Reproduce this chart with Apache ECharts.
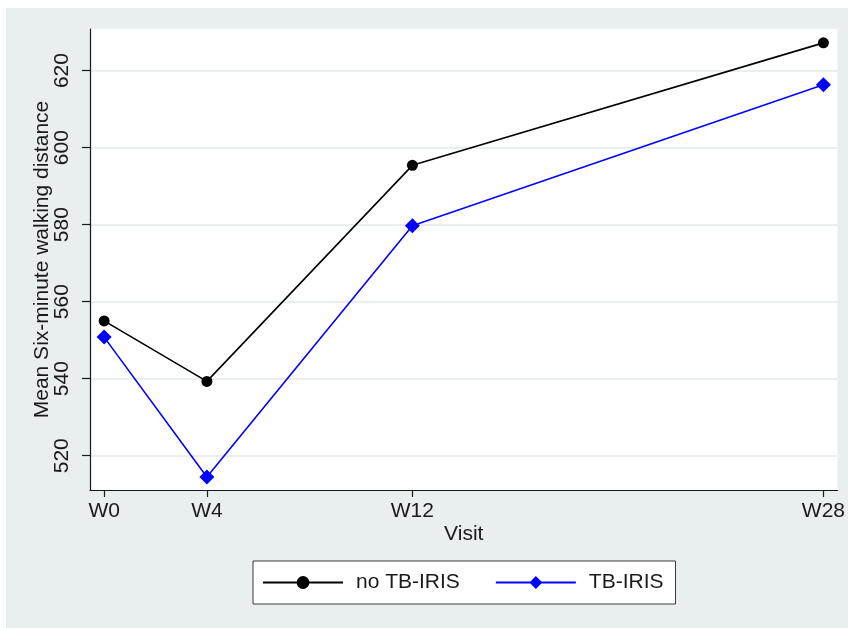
<!DOCTYPE html>
<html>
<head>
<meta charset="utf-8">
<script src="https://cdn.jsdelivr.net/npm/echarts@6/dist/echarts.min.js"></script>
<style>
  html, body { margin: 0; padding: 0; background: #ffffff; }
  #chart { width: 848px; height: 628px; }
</style>
</head>
<body>
<div id="chart"></div>
<script>
// Visit week for each measurement
const visitWeeks = [0, 4, 12, 28];
const visitLabels = ['W0', 'W4', 'W12', 'W28'];
// Mean six-minute walking distance per group
const noTbIris = [555.0, 539.3, 595.4, 627.2];
const tbIris = [550.8, 514.5, 579.7, 616.3];
// Y axis tick values
const yTicks = [520, 540, 560, 580, 600, 620];

const FONT = 'Liberation Sans, Arial, Helvetica, sans-serif';
const FS = 21;
const INK = '#1a1a1a';
const BG = '#E9EEEE';

const chart = echarts.init(document.getElementById('chart'), null, { renderer: 'canvas' });

const pair = (xs, ys) => xs.map((x, i) => [x, ys[i]]);

chart.setOption({
  backgroundColor: '#ffffff',
  animation: false,
  graphic: [{
    type: 'rect', z: -10, silent: true,
    shape: { x: 6, y: 8, width: 842, height: 620 },
    style: { fill: BG }
  }],
  grid: {
    left: 90, right: 8, top: 29, bottom: 138,
    show: true, backgroundColor: '#ffffff', borderWidth: 0,
    containLabel: false
  },
  xAxis: {
    type: 'value',
    min: -0.55, max: 28.55,
    name: 'Visit', nameLocation: 'middle', nameGap: 34, nameMoveOverlap: false,
    nameTextStyle: { fontFamily: FONT, fontSize: FS, color: INK },
    axisLine: { show: true, onZero: false, lineStyle: { color: INK, width: 1.2 } },
    axisTick: { show: true, inside: false, length: 7, customValues: visitWeeks, lineStyle: { color: INK, width: 1.2 } },
    axisLabel: {
      customValues: visitWeeks, margin: 11,
      fontFamily: FONT, fontSize: FS, color: INK,
      formatter: v => visitLabels[visitWeeks.indexOf(v)] ?? ''
    },
    splitLine: { show: false }
  },
  yAxis: {
    type: 'value',
    min: 511.1, max: 630.8,
    name: 'Mean Six-minute walking distance', nameLocation: 'middle', nameGap: 37, nameRotate: 90,
    nameMoveOverlap: false,
    nameTextStyle: { fontFamily: FONT, fontSize: FS, color: INK },
    axisLine: { show: true, onZero: false, lineStyle: { color: INK, width: 1.2 } },
    axisTick: { show: true, inside: false, length: 8, customValues: yTicks, lineStyle: { color: INK, width: 1.2 } },
    axisLabel: {
      customValues: yTicks, rotate: 90, margin: 17,
      fontFamily: FONT, fontSize: FS, color: INK
    },
    splitLine: { show: true, lineStyle: { color: BG, width: 2 } }
  },
  legend: {
    left: 253, top: 561,
    orient: 'horizontal',
    backgroundColor: '#ffffff', borderColor: '#3a3a3a', borderWidth: 1,
    padding: [11, 12, 11, 9],
    itemWidth: 80, itemHeight: 16, itemGap: 35,
    textStyle: { fontFamily: FONT, fontSize: FS, color: INK, padding: [0, 0, 0, 8] },
    data: ['no TB-IRIS', 'TB-IRIS']
  },
  series: [
    {
      name: 'no TB-IRIS', type: 'line',
      data: pair(visitWeeks, noTbIris),
      symbol: 'circle', symbolSize: 11,
      itemStyle: { color: '#000000' },
      lineStyle: { color: '#000000', width: 1.6 }
    },
    {
      name: 'TB-IRIS', type: 'line',
      data: pair(visitWeeks, tbIris),
      symbol: 'diamond', symbolSize: 15,
      itemStyle: { color: '#0000FF' },
      lineStyle: { color: '#0000FF', width: 1.6 }
    }
  ]
});
</script>
</body>
</html>
